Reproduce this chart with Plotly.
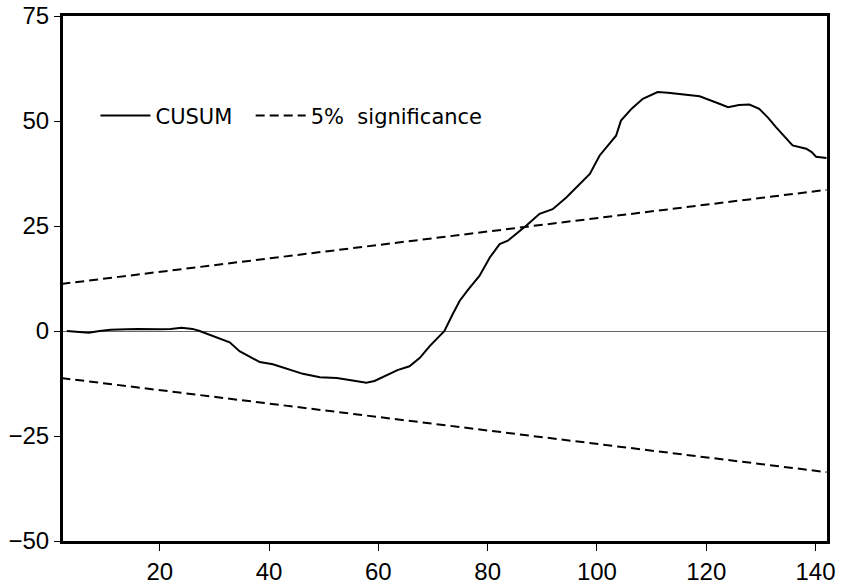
import plotly.graph_objects as go

cusum_x = [3, 5, 7, 9, 11, 14, 16, 20, 22, 24, 26, 27.3, 29.7, 32.8, 34.6, 36.5,
           38.3, 40.7, 43.5, 46.2, 49.3, 52.4, 55, 57.8, 59.3, 61.5, 63.5, 65.7,
           67.6, 69.4, 71.5, 72.1, 73.6, 74.9, 76.4, 78.5, 80.4, 82.2, 83.7, 85.4,
           87.1, 89.5, 91.9, 94.4, 96.5, 98.7, 100.5, 103.5, 104.4, 106.4, 108.4,
           111.1, 113, 115.1, 118.8, 122.4, 124, 126, 127.9, 129.7, 131.3, 132.8,
           134.3, 135.8, 138.3, 139.3, 140.1, 142]
cusum_y = [0, -0.2, -0.4, 0, 0.3, 0.4, 0.5, 0.4, 0.5, 0.8, 0.5, 0, -1.2, -2.7, -4.8, -6.2,
           -7.4, -7.9, -9.0, -10.2, -11.0, -11.2, -11.7, -12.3, -11.9, -10.5, -9.3, -8.4,
           -6.4, -3.6, -0.6, 0, 4.0, 7.2, 9.8, 13.1, 17.5, 20.7, 21.5, 23.2,
           25.1, 27.9, 29.0, 31.8, 34.5, 37.4, 41.8, 46.5, 50.1, 53.0, 55.3,
           56.9, 56.7, 56.4, 55.9, 54.1, 53.3, 53.8, 53.9, 52.9, 50.8, 48.5,
           46.3, 44.2, 43.4, 42.6, 41.5, 41.2]

# 5% significance bounds (straight lines)
sig_x = [2, 142]
sig_upper = [11.2, 33.6]
sig_lower = [-11.2, -33.6]

x_ticks = [20, 40, 60, 80, 100, 120, 140]
y_ticks = [-50, -25, 0, 25, 50, 75]

fig = go.Figure()
fig.add_trace(go.Scatter(x=cusum_x, y=cusum_y, mode="lines", name="CUSUM\u00a0\u00a0",
                         line=dict(color="black", width=2)))
fig.add_trace(go.Scatter(x=sig_x, y=sig_upper, mode="lines",
                         name="5%\u00a0\u00a0significance",
                         line=dict(color="black", width=2, dash="9px,5px")))
fig.add_trace(go.Scatter(x=sig_x, y=sig_lower, mode="lines", name="5% significance",
                         showlegend=False,
                         line=dict(color="black", width=2, dash="9px,5px")))

fig.update_layout(
    width=845, height=584,
    margin=dict(l=63, r=18, t=16, b=43),
    paper_bgcolor="white", plot_bgcolor="white",
    font=dict(family="Liberation Sans, Arial, sans-serif", size=24, color="black"),
    showlegend=True,
    legend=dict(orientation="h", x=0.0425, y=0.81, xanchor="left", yanchor="middle",
                bgcolor="rgba(0,0,0,0)",
                font=dict(family="DejaVu Sans, sans-serif", size=21),
                itemwidth=50, tracegroupgap=0),
    xaxis=dict(range=[2.3, 142.1], tickvals=x_ticks, showgrid=False, zeroline=False,
               showline=True, linecolor="black", linewidth=3, mirror=True,
               automargin=False,
               ticks="outside", ticklen=7, tickwidth=1, tickcolor="black"),
    yaxis=dict(range=[-50, 75], tickvals=y_ticks, showgrid=False,
               zeroline=True, zerolinecolor="#666666", zerolinewidth=1,
               showline=True, linecolor="black", linewidth=3, mirror=True,
               automargin=False,
               ticks="outside", ticklen=6, tickwidth=1, tickcolor="black"),
)

# remove the browser's default body margin so the figure sits at the page origin
fig.write_html("out.html", config={"displayModeBar": False},
               post_script="document.body.style.margin='0';")
